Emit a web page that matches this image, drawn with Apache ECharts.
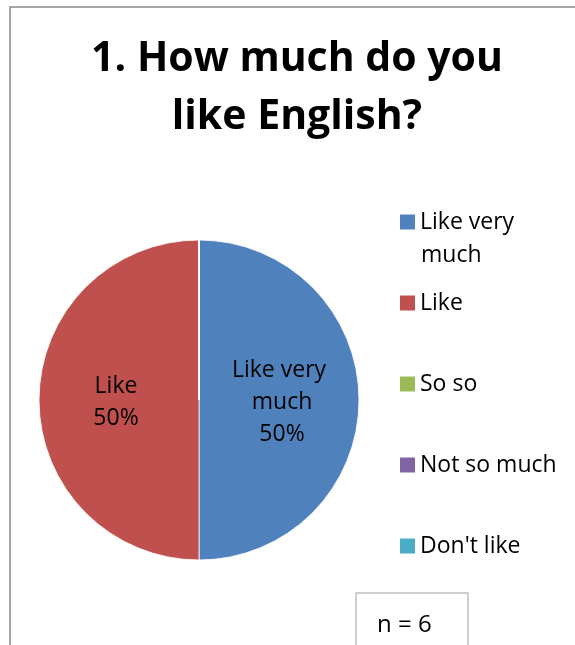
<!DOCTYPE html>
<html>
<head>
<meta charset="utf-8">
<script src="https://cdn.jsdelivr.net/npm/echarts@6/dist/echarts.min.js"></script>
<style>
html,body{margin:0;padding:0;background:#fff;}
#chart{width:575px;height:645px;}
</style>
</head>
<body>
<div id="chart"></div>
<script>
const titleText = '1. How much do you\nlike English?';
const categories = ['Like very much', 'Like', 'So so', 'Not so much', "Don't like"];
const counts = [3, 3, 0, 0, 0];
const colors = ['#4F81BD', '#C0504D', '#9BBB59', '#8064A2', '#4BACC6'];
const sampleNote = 'n = 6';

const FONT = 'Open Sans';
const chart = echarts.init(document.getElementById('chart'), null, {renderer: 'canvas'});

const option = {
  backgroundColor: '#ffffff',
  animation: false,
  color: colors,
  title: {
    text: titleText,
    left: 297,
    textAlign: 'center',
    top: 30,
    padding: 0,
    textStyle: {
      fontFamily: FONT,
      fontWeight: 'bold',
      fontSize: 41,
      lineHeight: 58,
      color: '#000'
    }
  },
  legend: {
    orient: 'vertical',
    left: 400,
    top: 206,
    padding: 0,
    icon: 'rect',
    itemWidth: 15,
    itemHeight: 15,
    itemGap: 49,
    itemStyle: {borderWidth: 0},
    data: categories,
    formatter: function (name) {
      return name === 'Like very much' ? 'Like very' : name;
    },
    textStyle: {
      fontFamily: FONT,
      fontSize: 23,
      lineHeight: 32,
      color: '#000'
    }
  },
  graphic: [
    {
      type: 'rect',
      silent: true,
      shape: {x: 10, y: 7, width: 700, height: 800},
      style: {fill: 'none', stroke: '#888888', lineWidth: 1.5}
    },
    {
      type: 'text',
      left: 421,
      top: 239,
      silent: true,
      style: {
        text: 'much',
        font: '23px "Open Sans"',
        fill: '#000',
        lineHeight: 32
      }
    },
    {
      type: 'rect',
      silent: true,
      shape: {x: 356, y: 593, width: 112, height: 80},
      style: {fill: '#fff', stroke: '#BFBFBF', lineWidth: 1.5}
    },
    {
      type: 'text',
      left: 377,
      top: 613,
      silent: true,
      style: {
        text: sampleNote,
        font: '24px "Open Sans"',
        fill: '#000'
      }
    }
  ],
  series: [{
    type: 'pie',
    center: [199, 400],
    radius: 160,
    startAngle: 90,
    clockwise: true,
    avoidLabelOverlap: false,
    itemStyle: {borderColor: '#ffffff', borderWidth: 0.8},
    label: {
      show: true,
      position: 'inside',
      fontFamily: FONT,
      fontSize: 23,
      lineHeight: 32,
      color: '#000',
      width: 125,
      overflow: 'break',
      align: 'center',
      offset: [0, 2],
      formatter: function (p) {
        if (!p.value) return '';
        return p.name + '\n' + Math.round(p.percent) + '%';
      }
    },
    labelLine: {show: false},
    emphasis: {disabled: true},
    data: categories.map(function (c, i) { return {name: c, value: counts[i]}; })
  }]
};
chart.setOption(option);
</script>
</body>
</html>
